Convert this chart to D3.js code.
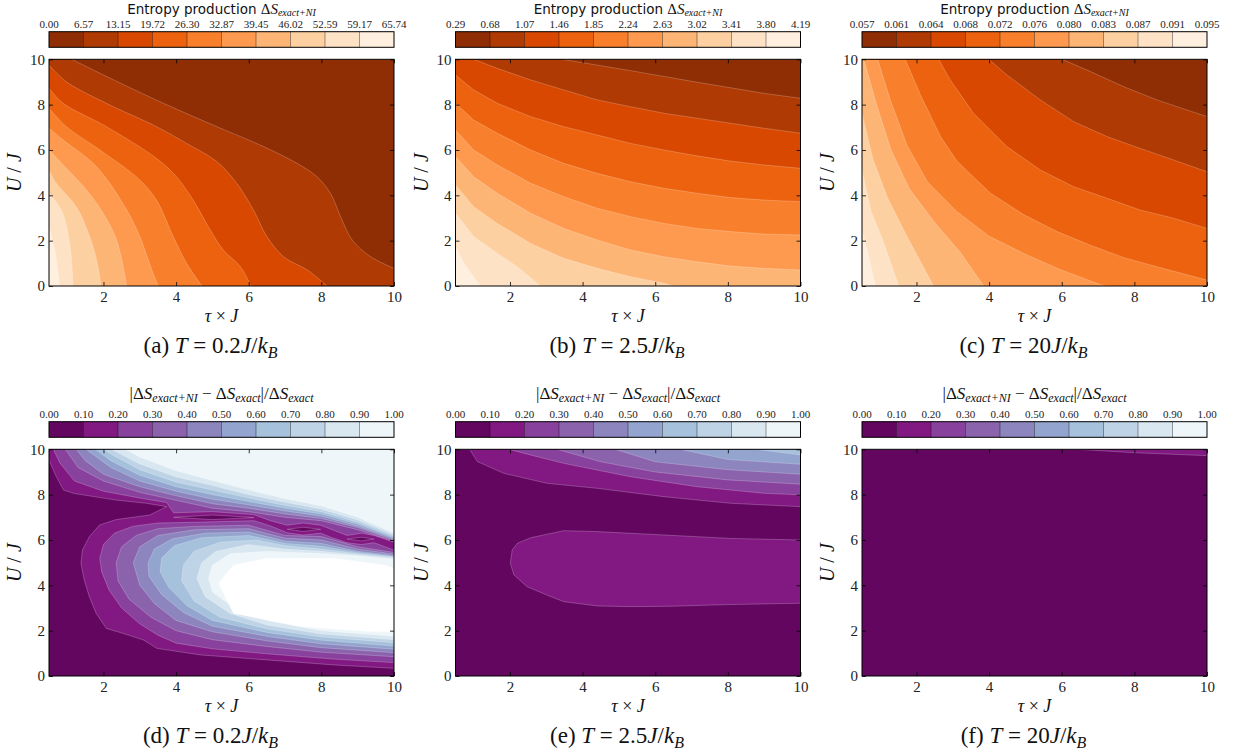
<!DOCTYPE html>
<html>
<head>
<meta charset="utf-8">
<script src="https://cdn.jsdelivr.net/npm/d3@7"></script>
<style>
  body { margin: 0; background: #fff; }
</style>
</head>
<body>
<svg id="fig" width="1237" height="755"></svg>
<script>
// ---------- colour-bar tick labels (contour levels) ----------
const ticksA = ["0.00","6.57","13.15","19.72","26.30","32.87","39.45","46.02","52.59","59.17","65.74"];
const ticksB = ["0.29","0.68","1.07","1.46","1.85","2.24","2.63","3.02","3.41","3.80","4.19"];
const ticksC = ["0.057","0.061","0.064","0.068","0.072","0.076","0.080","0.083","0.087","0.091","0.095"];
const ticksRel = ["0.00","0.10","0.20","0.30","0.40","0.50","0.60","0.70","0.80","0.90","1.00"];

// axis ticks
const tauTicks = [2, 4, 6, 8, 10];
const uTicks = [0, 2, 4, 6, 8, 10];

// ---------- contour boundaries [level, [[tau, U], ...]] ----------
// an open line runs edge to edge with the higher values on its right-hand side
const contoursA = [
  [1, [[1.12,10],[2.4,9.0],[3.65,8.06],[5.12,7.03],[6.41,6.15],[7.33,5.41],[7.88,4.82],[8.25,4.09],[8.53,3.06],[8.85,2.03],[9.36,1.29],[10,0.78]]],
  [2, [[0.5,9.75],[0.98,9.01],[2.08,8.06],[3.46,7.03],[4.29,6.29],[5.12,5.49],[5.67,4.53],[6.13,3.35],[6.5,2.18],[6.96,1.29],[7.61,0.71],[8.16,0]]],
  [3, [[0.5,8.72],[0.89,8.06],[2.08,7.03],[3.46,5.63],[4.01,4.82],[4.47,3.79],[4.94,2.47],[5.3,1.59],[5.77,0.85],[6.06,0]]],
  [4, [[0.5,7.84],[0.98,7.03],[1.9,6.0],[3.0,4.68],[3.46,3.79],[3.92,2.18],[4.29,1.0],[4.71,0]]],
  [5, [[0.5,6.96],[0.89,6.44],[1.81,5.26],[2.64,3.35],[3.0,2.18],[3.33,0.71],[3.51,0]]],
  [6, [[0.5,6.0],[0.89,5.34],[1.53,4.24],[1.99,3.21],[2.36,2.03],[2.64,0]]],
  [7, [[0.5,5.12],[0.7,4.53],[1.25,3.5],[1.62,2.18],[1.85,0.85],[1.93,0]]],
  [8, [[0.5,4.09],[0.84,3.35],[1.07,1.88],[1.16,0]]],
  [9, [[0.5,2.62],[0.66,1.59],[0.79,0]]]
];

const contoursB = [
  [1, [[3.44,10],[5.32,9.5],[7.15,8.99],[8.99,8.5],[10,8.28]]],
  [2, [[1.0,10],[1.65,9.6],[2.57,9.09],[3.48,8.65],[4.4,8.21],[5.32,7.91],[6.24,7.62],[7.15,7.4],[8.07,7.18],[8.99,6.96],[10,6.74]]],
  [3, [[0.5,9.31],[1.0,8.65],[1.65,8.06],[2.57,7.47],[3.48,7.03],[4.4,6.66],[5.32,6.29],[6.24,6.0],[7.15,5.74],[8.07,5.51],[8.99,5.34],[10,5.19]]],
  [4, [[0.5,8.06],[1.0,7.32],[1.65,6.74],[2.57,6.0],[3.48,5.41],[4.4,4.97],[5.32,4.6],[6.24,4.31],[7.15,4.09],[8.07,3.9],[8.99,3.79],[10,3.72]]],
  [5, [[0.5,6.88],[1.0,6.0],[1.65,5.34],[2.57,4.53],[3.48,3.94],[4.4,3.43],[5.32,3.06],[6.24,2.76],[7.15,2.54],[8.07,2.4],[8.99,2.29],[10,2.25]]],
  [6, [[0.5,5.71],[1.0,4.82],[1.65,4.09],[2.57,3.21],[3.48,2.54],[4.4,2.03],[5.32,1.59],[6.24,1.29],[7.15,1.07],[8.07,0.88],[8.99,0.78],[10,0.71]]],
  [7, [[0.5,4.46],[1.0,3.5],[1.65,2.76],[2.57,1.88],[3.48,1.22],[4.4,0.78],[5.32,0.41],[6.24,0.12],[6.5,0]]],
  [8, [[0.5,3.21],[1.0,2.18],[1.65,1.44],[2.2,0.85],[2.84,0]]],
  [9, [[0.5,1.74],[0.73,1.0],[1.0,0.41],[1.19,0]]]
];

const contoursC = [
  [1, [[6.01,10],[6.79,9.46],[7.71,8.79],[8.62,8.21],[10,7.47]]],
  [2, [[3.99,10],[4.49,9.31],[5.41,8.21],[6.33,7.25],[7.25,6.59],[8.16,6.07],[9.08,5.56],[10,5.04]]],
  [3, [[2.61,10],[2.93,9.09],[3.57,7.62],[4.49,6.15],[5.41,5.12],[6.33,4.38],[7.25,3.87],[8.16,3.35],[9.08,2.99],[10,2.54]]],
  [4, [[1.69,10],[2.11,8.43],[2.66,6.6],[3.12,5.5],[4.03,4.1],[4.95,3.15],[5.87,2.4],[6.79,1.8],[7.71,1.25],[8.62,0.85],[10,0.26]]],
  [5, [[0.93,10],[1.28,8.2],[1.74,6.2],[2.3,4.6],[3.1,3.3],[4.0,2.2],[5.0,1.4],[6.0,0.7],[7.0,0.1],[7.2,0]]],
  [6, [[0.55,10],[0.9,8.0],[1.3,6.0],[1.8,4.3],[2.5,2.8],[3.2,1.5],[3.85,0]]],
  [7, [[0.5,7.6],[0.8,5.6],[1.2,3.9],[1.7,2.3],[2.47,0]]],
  [8, [[0.5,5.1],[0.75,3.3],[1.1,1.9],[1.51,0]]],
  [9, [[0.5,2.47],[0.7,1.2],[0.87,0]]]
];

const contoursD = [
  [1, [[10,0.34],[8.34,0.49],[6.5,0.71],[4.67,0.93],[3.47,1.22],[3.1,1.59],[2.6,1.85],[2.08,2.1],[1.8,2.76],[1.61,3.5],[1.47,4.24],[1.38,4.97],[1.42,5.56],[1.61,6.14],[1.89,6.66],[2.35,6.9],[3.27,7.1],[3.74,7.47],[3.18,7.62],[2.35,7.76],[1.2,8.05],[0.9,8.2],[0.7,8.8],[0.5,9.53]]],
  [0, [[3.93,7.0],[5.0,7.1],[6.14,6.99],[5.0,6.9]]],
  [0, [[7.06,6.47],[7.5,6.56],[7.98,6.47],[7.5,6.38]]],
  [0, [[8.71,6.04],[9.1,6.12],[9.45,6.04],[9.1,5.96]]],
  [2, [[10,5.9],[9.45,6.2],[9.1,6.3],[8.71,6.2],[8.3,6.45],[7.98,6.65],[7.5,6.75],[7.06,6.65],[6.6,6.85],[6.14,7.12],[5.0,7.25],[3.93,7.2],[3.74,7.65],[3.0,7.85],[2.0,8.15],[1.2,8.6],[0.8,9.4],[0.62,10]]],
  [2, [[10,0.59],[8.3,0.75],[6.5,0.98],[5.0,1.2],[4.0,1.45],[3.5,1.8],[3.0,2.3],[2.5,3.0],[2.15,3.8],[1.95,4.6],[1.9,5.2],[2.0,5.8],[2.3,6.3],[2.8,6.6],[3.5,6.75],[4.5,6.78],[6.14,6.85],[6.6,6.62],[7.06,6.32],[7.5,6.22],[7.98,6.3],[8.3,6.1],[8.71,5.88],[9.1,5.8],[9.45,5.88],[10,5.55]]],
  [3, [[10,5.95],[9,6.45],[8,6.85],[7,7.0],[6,7.25],[5,7.4],[4,7.75],[3,8.1],[2,8.6],[1.3,9.2],[0.95,10]]],
  [3, [[10,0.85],[8,1.05],[6.5,1.3],[5,1.6],[4,2.0],[3.3,2.6],[2.7,3.4],[2.4,4.2],[2.35,5.0],[2.5,5.7],[2.9,6.2],[3.5,6.5],[4.5,6.6],[6,6.65],[7,6.2],[8,6.15],[9,5.7],[10,5.45]]],
  [4, [[10,6.0],[9,6.55],[8,6.95],[7,7.15],[6,7.4],[5,7.6],[4,7.95],[3,8.35],[2,8.9],[1.5,9.5],[1.25,10]]],
  [4, [[10,1.03],[8,1.25],[6.5,1.55],[5,1.95],[4,2.45],[3.4,3.2],[3.0,4.0],[2.82,5.0],[3.0,5.7],[3.5,6.2],[4.5,6.45],[6,6.5],[7,6.08],[8,6.0],[9,5.6],[10,5.38]]],
  [5, [[10,6.05],[9,6.62],[8,7.05],[7,7.28],[6,7.55],[5,7.8],[4,8.15],[3,8.6],[2.2,9.2],[1.52,10]]],
  [5, [[10,1.18],[8,1.42],[6.5,1.75],[5,2.2],[4.2,2.8],[3.6,3.6],[3.25,4.4],[3.23,5.0],[3.4,5.6],[3.9,6.05],[4.8,6.3],[6,6.35],[7,5.95],[8,5.85],[9,5.5],[10,5.32]]],
  [6, [[10,6.1],[9,6.7],[8,7.15],[7,7.4],[6,7.7],[5,8.0],[4,8.35],[3,8.85],[2.2,9.5],[1.78,10]]],
  [6, [[10,1.32],[8,1.58],[6.5,1.92],[5,2.45],[4.3,3.1],[3.8,3.9],[3.56,4.6],[3.6,5.2],[3.95,5.75],[4.7,6.1],[6,6.2],[7,5.85],[8,5.72],[9,5.45],[10,5.27]]],
  [7, [[10,6.15],[9,6.78],[8,7.25],[7,7.52],[6,7.85],[5,8.2],[4,8.55],[3,9.1],[2.3,9.7],[2.0,10]]],
  [7, [[10,1.47],[8,1.72],[6.5,2.08],[5.2,2.6],[4.5,3.3],[4.15,4.2],[4.2,4.9],[4.5,5.5],[5.2,5.9],[6.2,6.0],[7,5.75],[8,5.6],[9,5.4],[10,5.25]]],
  [8, [[10,6.22],[9,6.88],[8,7.36],[7,7.66],[6,8.0],[5,8.4],[4,8.78],[3,9.35],[2.22,10]]],
  [8, [[10,1.6],[8,1.85],[6.5,2.25],[5.5,2.75],[4.8,3.5],[4.57,4.3],[4.7,5.0],[5.1,5.5],[6,5.8],[7,5.6],[8,5.5],[9,5.35],[10,5.22]]],
  [9, [[10,6.3],[9,7.0],[8,7.5],[7,7.82],[6,8.2],[5,8.62],[4,9.05],[3,9.65],[2.6,10]]],
  [9, [[10,1.75],[8,2.0],[6.5,2.45],[5.6,3.0],[5.0,3.7],[4.89,4.3],[5.0,4.9],[5.5,5.4],[6.5,5.5],[8,5.4],[9,5.3],[10,5.15]]],
  [10, [[10,1.95],[9.26,1.96],[7.42,2.18],[5.58,2.76],[5.17,4.09],[5.58,4.9],[6.5,5.19],[8.34,5.19],[9.72,4.9],[10,4.75]]]
];

const contoursE = [
  [1, [[10,7.47],[8.07,7.62],[6.24,7.91],[4.4,8.28],[3.02,8.5],[1.83,8.94],[1.1,9.46],[0.89,10]]],
  [1, [[10,3.21],[8,3.15],[6.5,3.08],[5.32,3.06],[4.4,3.09],[3.48,3.28],[3.02,3.57],[2.47,3.94],[2.11,4.46],[2.01,4.97],[2.06,5.56],[2.2,5.85],[2.57,6.1],[3.48,6.41],[4.4,6.37],[6.24,6.22],[8.07,6.07],[10,6.0]]],
  [2, [[10,7.99],[8.99,8.06],[7.15,8.35],[5.32,8.79],[3.48,9.38],[2.56,9.75],[1.97,10]]],
  [3, [[10,8.46],[8,8.65],[6,9.0],[4.5,9.45],[3.3,10]]],
  [4, [[10,8.9],[8,9.1],[6,9.45],[4.9,10]]],
  [5, [[10,9.34],[8,9.55],[6.7,10]]],
  [6, [[10,9.75],[8.8,10]]]
];

const contoursF = [
  [1, [[10,9.72],[8,9.85],[6.42,10]]]
];

// ColorBrewer ramps (listed light to dark)
const orangeStops = ["#fff5eb","#fee6ce","#fdd0a2","#fdae6b","#fd8d3c","#f16913","#d94801","#a63603","#7f2704"];
const bupuStops = ["#f7fcfd","#e0ecf4","#bfd3e6","#9ebcda","#8c96c6","#8c6bb1","#88419d","#810f7c","#4d004b"];

// ---------- layout ----------
const SERIF = "'Liberation Serif','DejaVu Serif',serif";
const SANS = "'DejaVu Sans',sans-serif";
const PW = 345, PH = 226.7;
const colX = [49, 455.5, 862];
const rowY = [59.3, 449.3];
const CB_GAP = 27.6, CB_H = 15.6;
const X0 = 0.5, X1 = 10, Y0 = 0, Y1 = 10;

const panels = [
  {row:0, col:0, ticks:ticksA, stops:orangeStops, shapes:contoursA, smooth:true,  cap:"a", temp:"0.2", top:"entropy"},
  {row:0, col:1, ticks:ticksB, stops:orangeStops, shapes:contoursB, smooth:false, cap:"b", temp:"2.5", top:"entropy"},
  {row:0, col:2, ticks:ticksC, stops:orangeStops, shapes:contoursC, smooth:false, cap:"c", temp:"20",  top:"entropy"},
  {row:1, col:0, ticks:ticksRel, stops:bupuStops, shapes:contoursD, smooth:false, cap:"d", temp:"0.2", top:"rel"},
  {row:1, col:1, ticks:ticksRel, stops:bupuStops, shapes:contoursE, smooth:false, cap:"e", temp:"2.5", top:"rel"},
  {row:1, col:2, ticks:ticksRel, stops:bupuStops, shapes:contoursF, smooth:false, cap:"f", temp:"20",  top:"rel"}
];

const svg = d3.select("#fig");

// colours of the ten filled bands, darkest band for the lowest values
function bandColors(stops) {
  const ramp = d3.scaleLinear()
    .domain(stops.map((_, i) => i / (stops.length - 1)))
    .range(stops)
    .interpolate(d3.interpolateRgb);
  return d3.range(10).map(i => ramp(1 - (i + 0.5) / 10));
}

// position along the frame, clockwise from the top-left corner
const FW = X1 - X0, FH = Y1 - Y0, PER = 2 * (FW + FH);
function onBorder(p) {
  return Math.min(Math.abs(p[0]-X0), Math.abs(p[0]-X1), Math.abs(p[1]-Y0), Math.abs(p[1]-Y1)) < 1e-6;
}
function perim(p) {
  const d = [Math.abs(p[1]-Y1), Math.abs(p[0]-X1), Math.abs(p[1]-Y0), Math.abs(p[0]-X0)];
  const e = d.indexOf(Math.min(...d));
  if (e === 0) return p[0] - X0;
  if (e === 1) return FW + (Y1 - p[1]);
  if (e === 2) return FW + FH + (X1 - p[0]);
  return 2 * FW + FH + (p[1] - Y0);
}
const frameCorners = [[0,[X0,Y1]],[FW,[X1,Y1]],[FW+FH,[X1,Y0]],[2*FW+FH,[X0,Y0]]];

function cornersBetween(a, b) {
  const sE = perim(a), sS = perim(b);
  const span = (sS - sE + PER) % PER;
  return frameCorners
    .map(([s, pt]) => [(s - sE + PER) % PER, pt])
    .filter(([ds]) => ds > 1e-9 && ds < span - 1e-9)
    .sort((u, v) => u[0] - v[0])
    .map(d => d[1]);
}

function addRich(text, parts, size, subSize, drop) {
  let shift = 0;
  parts.forEach(p => {
    const want = p.sub ? drop : 0;
    const ts = text.append("tspan")
      .attr("font-family", p.sans ? SANS : SERIF)
      .attr("font-style", p.i ? "italic" : "normal")
      .attr("font-size", p.sub ? subSize : (p.size || size))
      .text(p.t);
    if (want !== shift) ts.attr("dy", want - shift);
    shift = want;
  });
}

panels.forEach((P, idx) => {
  const left = colX[P.col], top = rowY[P.row];
  const colors = bandColors(P.stops);
  const x = d3.scaleLinear().domain([X0, X1]).range([0, PW]);
  const y = d3.scaleLinear().domain([Y0, Y1]).range([PH, 0]);
  const g = svg.append("g").attr("transform", `translate(${left},${top})`);

  const clipId = "clip" + idx;
  g.append("clipPath").attr("id", clipId)
    .append("rect").attr("width", PW).attr("height", PH);
  const body = g.append("g").attr("clip-path", `url(#${clipId})`);

  // lowest band covers the whole frame
  body.append("rect").attr("width", PW).attr("height", PH).attr("fill", colors[0]);

  const curve = P.smooth ? d3.curveCatmullRom.alpha(0.5) : d3.curveLinear;
  const line = d3.line().x(d => x(d[0])).y(d => y(d[1])).curve(curve);
  const ring = d3.line().x(d => x(d[0])).y(d => y(d[1])).curve(d3.curveLinearClosed);

  P.shapes.forEach(([level, pts]) => {
    const fill = level >= 10 ? "#ffffff" : colors[level];
    let d, edge;
    if (onBorder(pts[0]) && onBorder(pts[pts.length - 1])) {
      edge = line(pts);
      d = edge + cornersBetween(pts[pts.length - 1], pts[0])
        .map(c => `L${x(c[0])},${y(c[1])}`).join("") + "Z";
    } else {
      d = ring(pts);
      edge = d;
    }
    body.append("path").attr("d", d).attr("fill", fill).attr("stroke", "none");
    body.append("path").attr("d", edge).attr("fill", "none")
      .attr("stroke", "rgba(255,255,255,0.32)").attr("stroke-width", 0.7);
  });

  // axes: ticks point inward on all four sides
  const styleAxis = sel => {
    sel.select(".domain").remove();
    sel.selectAll("line").attr("stroke", "#000").attr("stroke-width", 0.8);
    sel.selectAll("text").attr("font-family", SERIF).attr("font-size", 15).attr("fill", "#222");
  };
  g.append("g").attr("transform", `translate(0,${PH})`)
    .call(d3.axisBottom(x).tickValues(tauTicks).tickSizeInner(-4).tickSizeOuter(0).tickPadding(5).tickFormat(d3.format("d")))
    .call(styleAxis);
  g.append("g")
    .call(d3.axisTop(x).tickValues(tauTicks).tickSizeInner(-4).tickSizeOuter(0).tickFormat(""))
    .call(styleAxis);
  g.append("g")
    .call(d3.axisLeft(y).tickValues(uTicks).tickSizeInner(-4).tickSizeOuter(0).tickPadding(4).tickFormat(d3.format("d")))
    .call(styleAxis);
  g.append("g").attr("transform", `translate(${PW},0)`)
    .call(d3.axisRight(y).tickValues(uTicks).tickSizeInner(-4).tickSizeOuter(0).tickFormat(""))
    .call(styleAxis);
  g.append("rect").attr("width", PW).attr("height", PH)
    .attr("fill", "none").attr("stroke", "#000").attr("stroke-width", 1);

  // axis titles
  const yl = g.append("text")
    .attr("transform", `translate(-28,${PH / 2}) rotate(-90)`)
    .attr("text-anchor", "middle").attr("fill", "#111");
  addRich(yl, [{t:"U", i:true}, {t:" / "}, {t:"J", i:true}], 20, 14, 0);

  const xl = g.append("text").attr("x", PW / 2).attr("y", PH + 36)
    .attr("text-anchor", "middle").attr("fill", "#111");
  addRich(xl, [{t:"τ", i:true}, {t:" × "}, {t:"J", i:true}], 18, 12, 0);

  const cap = g.append("text").attr("x", PW / 2 - 11).attr("y", PH + 67)
    .attr("text-anchor", "middle").attr("fill", "#111");
  addRich(cap, [{t:`(${P.cap})  `}, {t:"T", i:true}, {t:`  =  ${P.temp}`}, {t:"J", i:true}, {t:"/"}, {t:"k", i:true}, {t:"B", i:true, sub:true}], 23, 16, 5);

  // colour bar
  const cb = g.append("g").attr("transform", `translate(0,${-CB_GAP})`);
  const cx = d3.scaleLinear().domain([0, 10]).range([0, PW]);
  cb.selectAll("rect.cell").data(colors).join("rect").attr("class", "cell")
    .attr("x", (d, i) => cx(i)).attr("width", (d, i) => cx(i + 1) - cx(i) + 0.3)
    .attr("y", 0).attr("height", CB_H).attr("fill", d => d);
  cb.selectAll("line.sep").data(d3.range(1, 10)).join("line").attr("class", "sep")
    .attr("x1", cx).attr("x2", cx).attr("y1", 0).attr("y2", CB_H)
    .attr("stroke", "#000").attr("stroke-opacity", 0.55).attr("stroke-width", 0.7);
  cb.append("rect").attr("width", PW).attr("height", CB_H)
    .attr("fill", "none").attr("stroke", "#000").attr("stroke-width", 1);
  cb.selectAll("text.tl").data(P.ticks).join("text").attr("class", "tl")
    .attr("x", (d, i) => cx(i)).attr("y", -3.5)
    .attr("text-anchor", "middle").attr("font-family", SERIF).attr("font-size", 11)
    .attr("fill", "#222").text(d => d);

  const tt = cb.append("text").attr("x", PW / 2).attr("y", P.top === "entropy" ? -17.5 : -22.5)
    .attr("text-anchor", "middle").attr("fill", "#111");
  if (P.top === "entropy") {
    addRich(tt, [{t:"Entropy production ", sans:true, size:13.5}, {t:"Δ", size:15}, {t:"S", i:true, size:15}, {t:"exact+NI", i:true, sub:true}], 15, 10, 1.5);
  } else {
    addRich(tt, [{t:"|Δ"}, {t:"S", i:true}, {t:"exact+NI", i:true, sub:true}, {t:" − Δ"}, {t:"S", i:true}, {t:"exact", i:true, sub:true}, {t:"|/Δ"}, {t:"S", i:true}, {t:"exact", i:true, sub:true}], 17, 12, 3);
  }
});
</script>
</body>
</html>
